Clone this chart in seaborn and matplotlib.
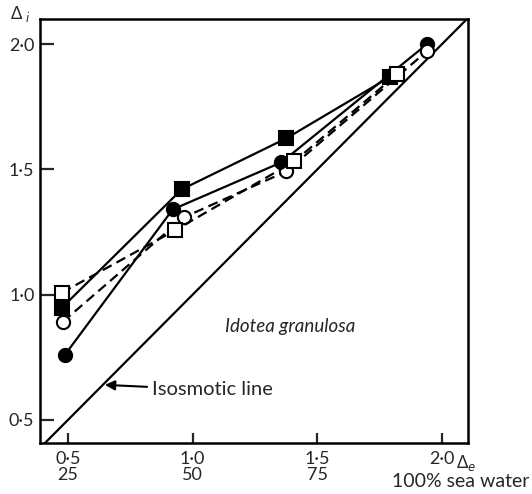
import numpy as np
import pandas as pd
import seaborn as sns
import matplotlib.pyplot as plt

# blood (Δi) against medium (Δe) concentration, Idotea granulosa
sq_fill_x = [0.476, 0.956, 1.376, 1.79]
sq_fill_y = [0.948, 1.42, 1.624, 1.868]
sq_open_x = [0.476, 0.928, 1.408, 1.82]
sq_open_y = [1.008, 1.256, 1.532, 1.88]
ci_fill_x = [0.488, 0.92, 1.356, 1.94]
ci_fill_y = [0.76, 1.34, 1.528, 2.0]
ci_open_x = [0.48, 0.964, 1.376, 1.94]
ci_open_y = [0.892, 1.308, 1.492, 1.972]
iso = [0.39, 2.1]

xticks = [0.5, 1.0, 1.5, 2.0]
xticklabels = ["0·5\n25", "1·0\n50", "1·5\n75", "2·0"]
yticks = [0.5, 1.0, 1.5, 2.0]
yticklabels = ["0·5", "1·0", "1·5", "2·0"]

sns.set_style("white")
plt.rcParams['font.family'] = ['Lato', 'DejaVu Sans']

fig = plt.figure(figsize=(5.32, 4.94), dpi=100)
ax = fig.add_axes([40/532, 1-443/494, 428/532, 424/494])

# isosmotic line
sns.lineplot(x=iso, y=iso, ax=ax, color='black', lw=1.6, estimator=None)

series = [
    (sq_fill_x, sq_fill_y, 's', 'black', '-'),
    (ci_fill_x, ci_fill_y, 'o', 'black', '-'),
    (ci_open_x, ci_open_y, 'o', 'white', (0, (4.5, 2.5))),
    (sq_open_x, sq_open_y, 's', 'white', (0, (4.5, 2.5))),
]
for xs, ys, mk, fc, ls in series:
    sns.lineplot(x=xs, y=ys, ax=ax, color='black', lw=1.6, linestyle=ls,
                 marker=mk, markersize=9.5, markerfacecolor=fc,
                 markeredgecolor='black', markeredgewidth=1.5,
                 estimator=None, sort=False)

ax.set_xlim(0.388, 2.104)
ax.set_ylim(0.408, 2.1)
ax.set_xticks(xticks)
ax.set_xticklabels(xticklabels, fontsize=13, linespacing=1.0)
ax.set_yticks(yticks)
ax.set_yticklabels(yticklabels, fontsize=13)
ax.tick_params(axis='y', direction='in', length=10, width=1.6, pad=4, left=True)
ax.tick_params(axis='x', direction='in', length=7, width=1.6, pad=6, bottom=True)
for s in ax.spines.values():
    s.set_linewidth(1.8)
    s.set_color('black')

tr = ax.get_xaxis_transform()
ax.text(2.055, -0.046, "Δ$_e$", transform=tr, fontsize=12, ha='left', va='center')
ax.text(2.076, -0.09, "100% sea water", transform=tr, fontsize=14, ha='center', va='center')
fig.text(10/532, 1-14/494, "Δ $_{\\it{i}}$", fontsize=12, ha='left', va='center')

ax.text(1.128, 0.872, "Idotea granulosa", fontsize=13.5, style='italic', ha='left', va='center')
ax.annotate("Isosmotic line", xy=(0.648, 0.64), xytext=(0.836, 0.62),
            fontsize=14.5, va='center', ha='left',
            arrowprops=dict(arrowstyle='-|>', color='black', lw=1.5,
                            shrinkA=1, shrinkB=0))

fig.savefig("out.png", dpi=100)
